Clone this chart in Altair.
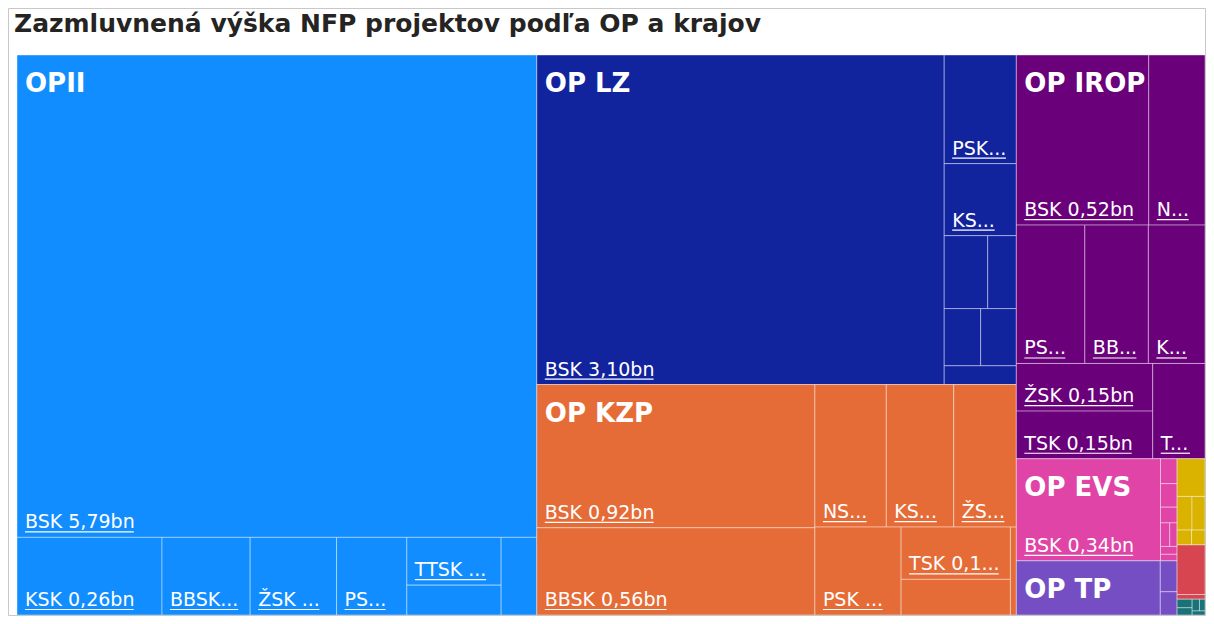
import altair as alt
import pandas as pd

TITLE = "Zazmluvnená výška NFP projektov podľa OP a krajov"

# ---- data (bn EUR) ----
op_names = ["OPII", "OP LZ", "OP KZP", "OP IROP", "OP EVS", "OP TP", "OP VaI", "PRV", "OP RH"]
op_colors = ["#118DFF", "#12239E", "#E66C37", "#6B007B", "#E044A7", "#744EC2", "#D9B300", "#D64550", "#197278"]

opii_regions = ["BSK", "KSK", "BBSK", "ŽSK", "PSK", "TTSK", "NSK", "TSK"]
opii_values = [5.79, 0.26, 0.158, 0.155, 0.126, 0.104, 0.065, 0.064]
oplz_regions = ["BSK", "PSK", "KSK", "BBSK", "ŽSK", "NSK", "TSK", "TTSK"]
oplz_values = [3.10, 0.181, 0.120, 0.0733, 0.0482, 0.0482, 0.0471, 0.0312]
opkzp_regions = ["BSK", "BBSK", "NSK", "KSK", "ŽSK", "PSK", "TSK", "TTSK", "SR"]
opkzp_values = [0.92, 0.56, 0.235, 0.222, 0.206, 0.175, 0.132, 0.09, 0.012]
irop_regions = ["BSK", "NSK", "PSK", "BBSK", "KSK", "ŽSK", "TSK", "TTSK"]
irop_values = [0.52, 0.221, 0.219, 0.203, 0.181, 0.15, 0.15, 0.115]
evs_regions = ["BSK", "KSK", "ŽSK", "PSK", "BBSK", "NSK", "TSK", "TTSK"]
evs_values = [0.34, 0.0095, 0.009, 0.006, 0.005, 0.004, 0.003, 0.0025]
tp_regions = ["BSK", "KSK", "ŽSK"]
tp_values = [0.18, 0.012, 0.009]
vai_regions = ["BSK", "ŽSK", "KSK", "PSK", "BBSK"]
vai_values = [0.0243, 0.0116, 0.0101, 0.005, 0.0046]
prv_regions = ["BSK", "NSK"]
prv_values = [0.032, 0.003]
rh_regions = ["BSK", "NSK", "TTSK", "KSK", "PSK"]
rh_values = [0.003, 0.0025, 0.002, 0.0015, 0.0012]

op_regions = [opii_regions, oplz_regions, opkzp_regions, irop_regions, evs_regions,
              tp_regions, vai_regions, prv_regions, rh_regions]
op_values = [opii_values, oplz_values, opkzp_values, irop_values, evs_values,
             tp_values, vai_values, prv_values, rh_values]

# ---- treemap layout (port of d3 squarify, ratio = golden) ----
W, H = 1188, 560
PHI = (1 + 5 ** 0.5) / 2


def squarify(nodes, x0, y0, x1, y1, ratio=PHI):
    out = []
    value = sum(v for _, v in nodes)
    i0 = i1 = 0
    n = len(nodes)
    while i0 < n:
        dx, dy = x1 - x0, y1 - y0
        sum_v = nodes[i1][1]
        i1 += 1
        min_v = max_v = sum_v
        alpha = max(dy / dx, dx / dy) / (value * ratio)
        beta = sum_v * sum_v * alpha
        min_ratio = max(max_v / beta, beta / min_v)
        while i1 < n:
            nv = nodes[i1][1]
            sum_v += nv
            min_v = min(min_v, nv)
            max_v = max(max_v, nv)
            beta = sum_v * sum_v * alpha
            new_ratio = max(max_v / beta, beta / min_v)
            if new_ratio > min_ratio:
                sum_v -= nv
                break
            min_ratio = new_ratio
            i1 += 1
        row = nodes[i0:i1]
        if dx < dy:
            yb = y0 + dy * sum_v / value if i1 < n else y1
            xx = x0
            for key, v in row:
                w = (x1 - x0) * v / sum_v
                out.append((key, v, xx, y0, xx + w, yb))
                xx += w
            y0 = yb
        else:
            xb = x0 + dx * sum_v / value if i1 < n else x1
            yy = y0
            for key, v in row:
                h = (y1 - y0) * v / sum_v
                out.append((key, v, x0, yy, xb, yy + h))
                yy += h
            x0 = xb
        value -= sum_v
        i0 = i1
    return out


# label width table (em), DejaVu-like
EM = {" ": 0.318, ",": 0.318, ".": 0.318, "B": 0.686, "K": 0.68, "N": 0.748,
      "P": 0.603, "S": 0.635, "T": 0.611, "Z": 0.686, "Ž": 0.686, "b": 0.635, "n": 0.634}
for d in "0123456789":
    EM[d] = 0.636
LABEL_SIZE = 19
PAD = 16.8


def text_w(s, size=LABEL_SIZE):
    return sum(EM.get(c, 0.62) for c in s) * size


def fit_label(name, value, avail):
    full = f"{name} {value:.2f}".replace(".", ",") + "bn"
    if text_w(full) <= avail:
        return full
    for k in range(len(full) - 1, 0, -1):
        t = full[:k] + "..."
        if text_w(t) <= avail:
            return t
    return None


top_nodes = sorted([(op, sum(vals)) for op, vals in zip(op_names, op_values)], key=lambda t: -t[1])
top_rects = squarify(top_nodes, 0, 0, W, H)

tiles, labels, titles = [], [], []
for op, total, ox0, oy0, ox1, oy1 in top_rects:
    i = op_names.index(op)
    kids = sorted(zip(op_regions[i], op_values[i]), key=lambda t: -t[1])
    has_title = (ox1 - ox0) >= 100 and (oy1 - oy0) >= 45
    if has_title:
        titles.append({"op": op, "x0": ox0, "y0": oy0})
    for j, (reg, v, x0, y0, x1, y1) in enumerate(squarify(kids, ox0, oy0, ox1, oy1)):
        tiles.append({"op": op, "region": reg, "value": v, "x0": x0, "x1": x1, "y0": y0, "y1": y1})
        w, h = x1 - x0, y1 - y0
        min_h = 80 if (j == 0 and has_title) else 40
        if w >= 48 and h >= min_h:
            lab = fit_label(reg, v, w - PAD)
            if lab:
                labels.append({"label": lab, "x0": x0, "y1": y1,
                               "ux0": x0 + 8, "ux1": x0 + 8 + text_w(lab) * 0.985, "uy": y1 - 5.5})

tiles_df = pd.DataFrame(tiles)
labels_df = pd.DataFrame(labels)
titles_df = pd.DataFrame(titles)

xs = alt.Scale(domain=[0, W], nice=False, zero=False)
ys = alt.Scale(domain=[0, H], nice=False, zero=False, reverse=True)

rects = alt.Chart(tiles_df).mark_rect(stroke="white", strokeOpacity=0.4, strokeWidth=1).encode(
    x=alt.X("x0:Q", scale=xs, axis=None),
    x2="x1:Q",
    y=alt.Y("y0:Q", scale=ys, axis=None),
    y2="y1:Q",
    color=alt.Color("op:N", scale=alt.Scale(domain=op_names, range=op_colors), legend=None),
    tooltip=[alt.Tooltip("op:N", title="OP"), alt.Tooltip("region:N", title="Kraj"),
             alt.Tooltip("value:Q", title="NFP (mld.)", format=".2f")],
)

underlines = alt.Chart(labels_df).mark_rule(color="white", strokeWidth=1.2).encode(
    x=alt.X("ux0:Q", scale=xs, axis=None),
    x2="ux1:Q",
    y=alt.Y("uy:Q", scale=ys, axis=None),
)

label_text = alt.Chart(labels_df).mark_text(
    align="left", baseline="alphabetic", dx=8, dy=-9,
    font="DejaVu Sans", fontSize=LABEL_SIZE, color="white",
).encode(
    x=alt.X("x0:Q", scale=xs, axis=None),
    y=alt.Y("y1:Q", scale=ys, axis=None),
    text="label:N",
)

title_text = alt.Chart(titles_df).mark_text(
    align="left", baseline="alphabetic", dx=8, dy=37,
    font="DejaVu Sans", fontSize=26, fontWeight="bold", color="white",
).encode(
    x=alt.X("x0:Q", scale=xs, axis=None),
    y=alt.Y("y0:Q", scale=ys, axis=None),
    text="op:N",
)

# chart heading and outer frame (decoration, in pixels)
heading = alt.Chart(pd.DataFrame({"t": [TITLE]})).mark_text(
    align="left", baseline="alphabetic", font="DejaVu Sans", fontSize=25,
    fontWeight="bold", color="#252423",
).encode(x=alt.value(-3), y=alt.value(-23), text="t:N")

frame = alt.Chart(pd.DataFrame({"f": [0]})).mark_rect(
    fill=None, stroke="#c8c8c8", strokeWidth=1
).encode(
    x=alt.value(-8.5), x2=alt.value(W + 0.5), y=alt.value(-46.5), y2=alt.value(H + 0.5)
)

chart = alt.layer(rects, underlines, label_text, title_text, heading, frame).properties(
    width=W,
    height=H,
    autosize=alt.AutoSizeParams(type="none"),
    padding={"left": 9, "top": 47, "right": 1, "bottom": 1},
    background="white",
).configure_view(stroke=None)

chart.save("out.html", embed_options={"renderer": "svg", "actions": False})
